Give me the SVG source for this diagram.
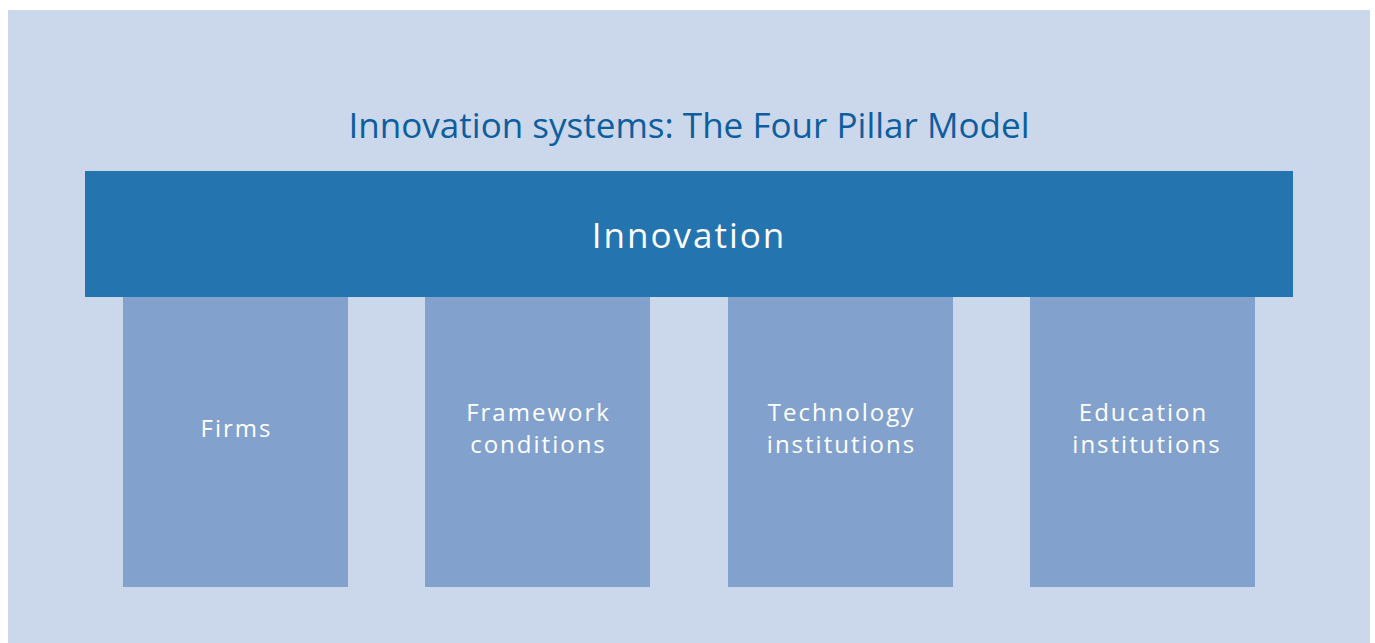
<svg xmlns="http://www.w3.org/2000/svg" width="1375" height="643" viewBox="0 0 1375 643">
<style>
.pillar{fill:#82A2CD}
.pt{font-family:"Open Sans","Liberation Sans",sans-serif;font-size:24px;fill:#FFFFFF;text-anchor:middle;letter-spacing:2px}
</style>
<rect x="0" y="0" width="1375" height="643" fill="#FFFFFF"/>
<rect x="8" y="10" width="1362" height="633" fill="#CBD7EA"/>
<text x="689" y="138" font-family="Open Sans, Liberation Sans, sans-serif" font-size="35" fill="#0E5E9F" text-anchor="middle" textLength="681" lengthAdjust="spacingAndGlyphs">Innovation systems: The Four Pillar Model</text>
<g id="innovation">
<rect x="85" y="171" width="1208" height="126" fill="#2474AF"/>
<text x="689" y="248" font-family="Open Sans, Liberation Sans, sans-serif" font-size="35" fill="#FFFFFF" text-anchor="middle" letter-spacing="2">Innovation</text>
</g>
<g id="firms">
<rect class="pillar" x="123" y="297" width="225" height="290"/>
<text class="pt" x="236.5" y="437">Firms</text>
</g>
<g id="framework">
<rect class="pillar" x="425" y="297" width="225" height="290"/>
<text class="pt" x="538.5" y="421">Framework</text>
<text class="pt" x="538.5" y="453">conditions</text>
</g>
<g id="technology">
<rect class="pillar" x="728" y="297" width="225" height="290"/>
<text class="pt" x="841.5" y="421">Technology</text>
<text class="pt" x="841.5" y="453">institutions</text>
</g>
<g id="education">
<rect class="pillar" x="1030" y="297" width="225" height="290"/>
<text class="pt" x="1143.5" y="421">Education</text>
<text class="pt" x="1147" y="453">institutions</text>
</g>
<g id="connectors"></g>
</svg>
